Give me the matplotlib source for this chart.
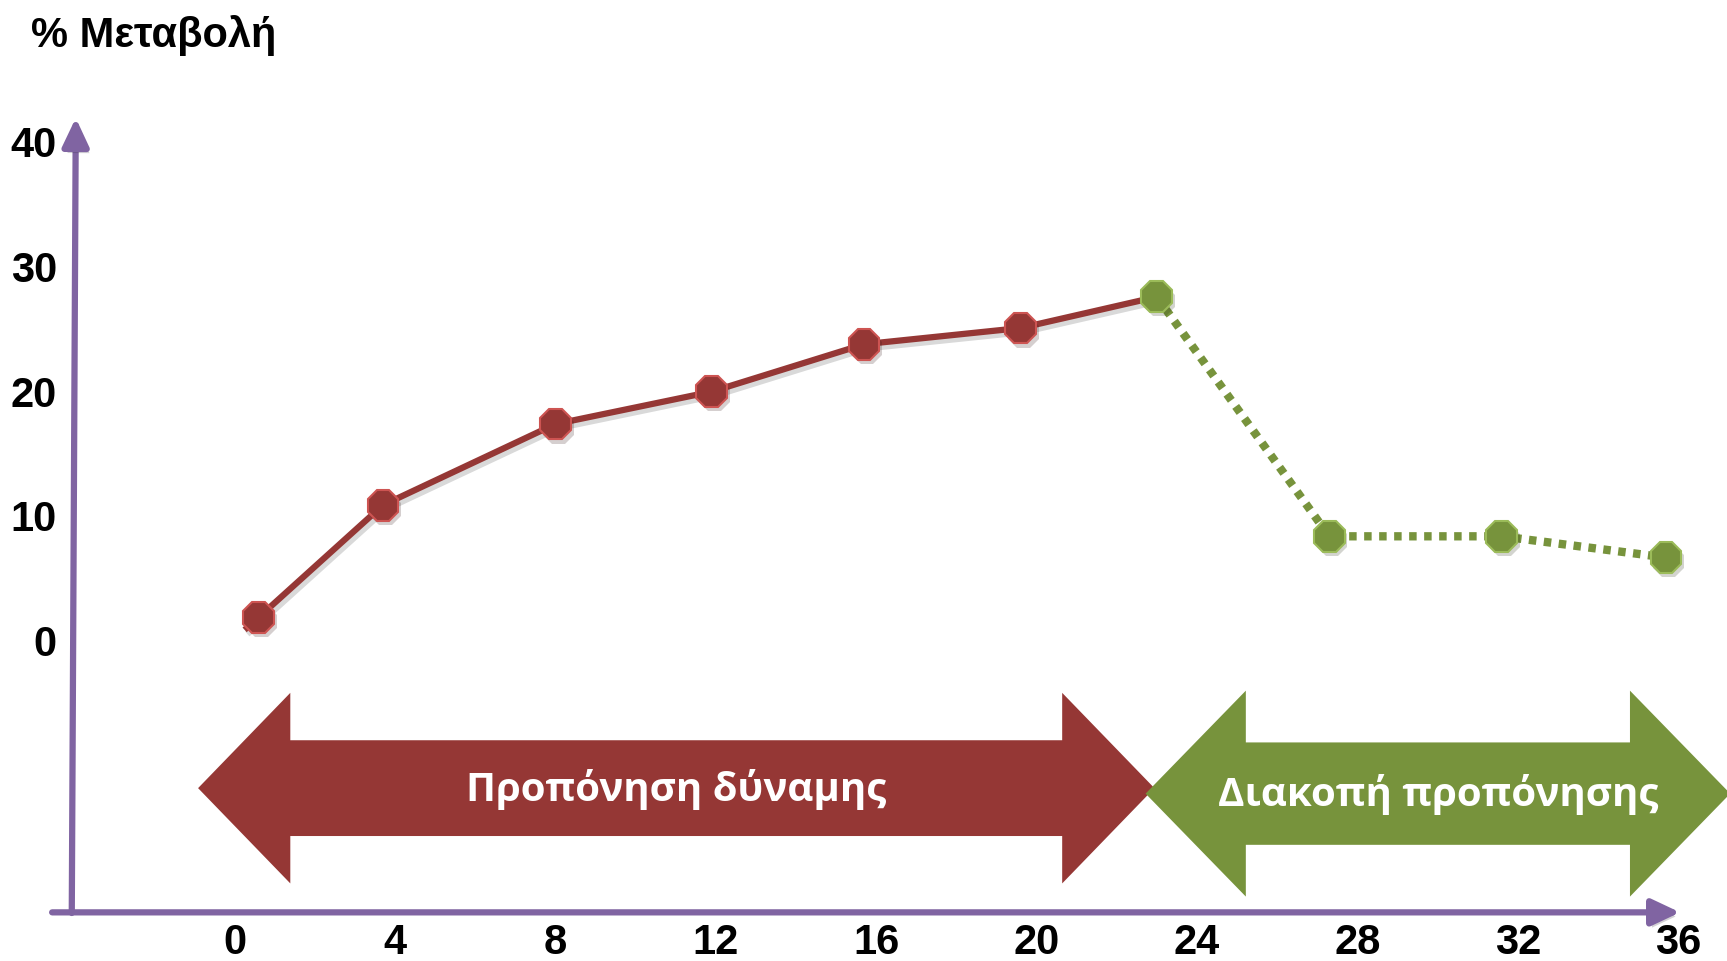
import matplotlib.pyplot as plt
import matplotlib.patheffects as pe
from matplotlib.patches import Polygon

# εβδομάδες και % μεταβολή
weeks_training = [0.6, 3.7, 8.0, 11.9, 15.7, 19.6]
change_training = [1.9, 10.9, 17.4, 20.0, 23.8, 25.1]
weeks_detraining = [23.0, 27.3, 31.6, 35.7]
change_detraining = [27.6, 8.4, 8.4, 6.7]
line_start = (0.25, 0.9)

x_ticks = [0, 4, 8, 12, 16, 20, 24, 28, 32, 36]
y_ticks = [0, 10, 20, 30, 40]

phases = [
    ("Προπόνηση δύναμης", -0.91, 22.94, -11.79, "#953735"),
    ("Διακοπή προπόνησης", 22.72, 37.3, -12.23, "#77933C"),
]

RED = "#953735"
RED_EDGE = "#CD5452"
GREEN = "#77933C"
GREEN_EDGE = "#9BBB59"
PURPLE = "#8064A2"

line_shadow = [pe.SimpleLineShadow(offset=(2, -3), alpha=0.15), pe.Normal()]
patch_shadow = [pe.SimplePatchShadow(offset=(2, -3), alpha=0.2), pe.Normal()]

fig = plt.figure(figsize=(17.27, 9.62), dpi=100)
ax = fig.add_axes([0, 0, 1, 1])
ax.set_xlim(-5.85, 37.22)
ax.set_ylim(-25.65, 51.48)
ax.axis('off')


def block_arrow(x0, x1, yc, body_h, head_h, head_len):
    return [(x0, yc), (x0 + head_len, yc + head_h / 2), (x0 + head_len, yc + body_h / 2),
            (x1 - head_len, yc + body_h / 2), (x1 - head_len, yc + head_h / 2), (x1, yc),
            (x1 - head_len, yc - head_h / 2), (x1 - head_len, yc - body_h / 2),
            (x0 + head_len, yc - body_h / 2), (x0 + head_len, yc - head_h / 2)]


# βέλη φάσεων
for i, (label, x0, x1, yc, col) in enumerate(phases):
    if i == 0:
        pts = block_arrow(x0, x1, yc, 7.68, 15.28, 2.3)
    else:
        pts = block_arrow(x0, x1, yc, 8.21, 16.51, 2.5)
    ax.add_patch(Polygon(pts, closed=True, facecolor=col, edgecolor='none', zorder=2 + i))
    ax.text((x0 + x1) / 2, yc, label, color='white', fontsize=29, fontweight='bold',
            family=['Open Sans', 'DejaVu Sans'], ha='center', va='center', zorder=5)

# άξονες
for start, tip in [((-4.06, -21.8), (-3.96, 41.94)), ((-4.55, -21.75), (36.05, -21.75))]:
    ax.annotate('', xy=tip, xytext=start,
                arrowprops=dict(arrowstyle='-|>,head_length=1.7,head_width=0.8', mutation_scale=10,
                                lw=4.5, color=PURPLE, shrinkA=0, shrinkB=0,
                                path_effects=patch_shadow), zorder=6)

# γραμμές
ax.plot([line_start[0]] + weeks_training + weeks_detraining[:1],
        [line_start[1]] + change_training + change_detraining[:1],
        color=RED, lw=4.5, solid_capstyle='butt', zorder=7, path_effects=line_shadow)
ax.plot(weeks_detraining, change_detraining, color=GREEN, lw=6,
        linestyle=(0, (0.9, 0.9)), dash_capstyle='butt', zorder=8)

ax.plot(weeks_training, change_training, linestyle='none', marker='8', markersize=24,
        markerfacecolor=RED, markeredgecolor=RED_EDGE, markeredgewidth=1.5, zorder=9,
        path_effects=patch_shadow)
ax.plot(weeks_detraining, change_detraining, linestyle='none', marker='8', markersize=24,
        markerfacecolor=GREEN, markeredgecolor=GREEN_EDGE, markeredgewidth=1.5, zorder=10,
        path_effects=patch_shadow)

# ετικέτες
tick_font = dict(fontsize=30, fontweight='bold', family=['Liberation Sans', 'DejaVu Sans'])
for v in y_ticks:
    ax.text(-4.43, v - 0.25, str(v), ha='right', va='center', **tick_font)
for w in x_ticks:
    ax.text(w, -24.15, str(w), ha='center', va='center', **tick_font)

fig.text(31 / 1727, 1 - 35 / 962, "% Μεταβολή", fontsize=30, fontweight='bold',
         family=['Liberation Sans', 'DejaVu Sans'], ha='left', va='center')

fig.savefig('out.png', dpi=100)
